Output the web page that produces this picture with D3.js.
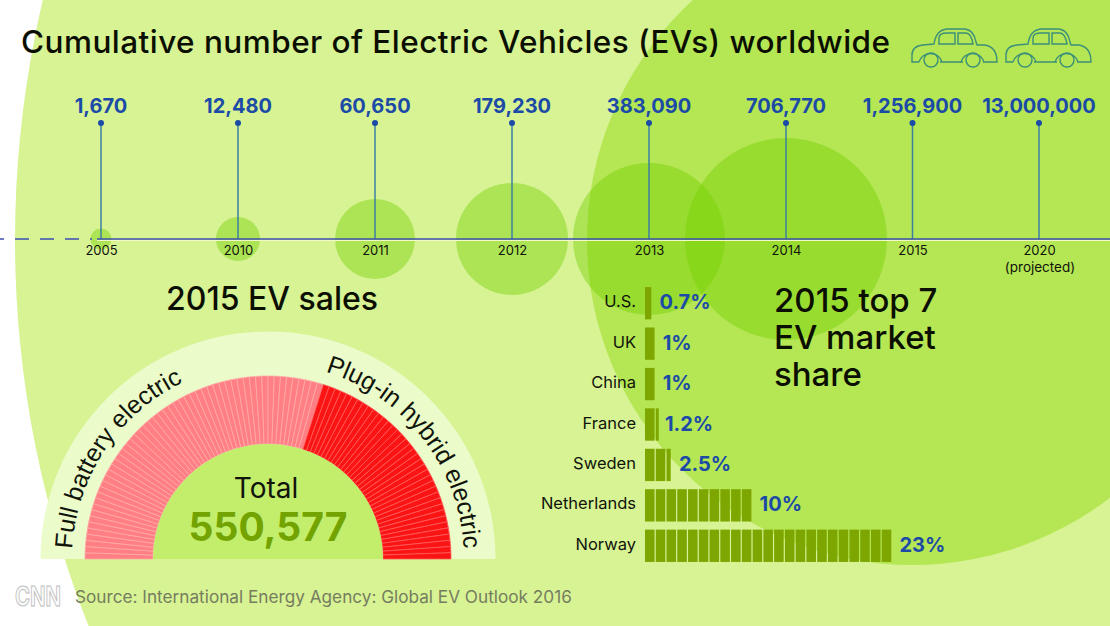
<!DOCTYPE html>
<html>
<head>
<meta charset="utf-8">
<script src="https://d3js.org/d3.v7.min.js"></script>
<style>
  html, body { margin: 0; padding: 0; background: #fff; }
  svg { display: block; }
  text { font-family: Inter, "Liberation Sans", Arial, sans-serif; }
  .heading { fill: #0b0f02; font-weight: 500; }
  .ringlabel { font-family: "Liberation Sans", Arial, sans-serif; }
</style>
</head>
<body>
<div id="chart"></div>
<script>
// timeline
const years = ["2005", "2010", "2011", "2012", "2013", "2014", "2015", "2020"];
const cumulative = [1670, 12480, 60650, 179230, 383090, 706770, 1256900, 13000000];
const bubbleYears = cumulative.slice(0, 6);

// gauge
const saleTypes = ["Full battery electric", "Plug-in hybrid electric"];
const saleValues = [327000, 223577];
const saleTotal = 550577;
const unitPerSlice = 6000;

// market share
const countries = ["U.S.", "UK", "China", "France", "Sweden", "Netherlands", "Norway"];
const shares = [0.7, 1, 1, 1.2, 2.5, 10, 23];
const shareLabels = ["0.7%", "1%", "1%", "1.2%", "2.5%", "10%", "23%"];

const width = 1110, height = 626;
const blue = "#1b4ba6";

var svg = d3.select("#chart").append("svg")
  .attr("width", width)
  .attr("height", height);

// background discs
svg.append("circle").attr("cx", 1065).attr("cy", 240).attr("r", 1050).attr("fill", "#d7f394");
svg.append("circle").attr("cx", 912).attr("cy", 240).attr("r", 325).attr("fill", "#b5e654");

svg.append("text")
  .attr("class", "heading")
  .attr("x", 21).attr("y", 53)
  .attr("font-size", 31.5)
  .attr("textLength", 869)
  .text("Cumulative number of Electric Vehicles (EVs) worldwide");

// little cars next to the title
function car(x, y) {
  var g = svg.append("g")
    .attr("transform", `translate(${x},${y})`)
    .attr("fill", "none")
    .attr("stroke", "#3c8f78")
    .attr("stroke-width", 1.4);
  g.append("path").attr("d", "M8,34 H1 V27 Q1,18 12,17 L23,16 Q25,2 36,1 H54 Q63,2 65,14 L66,17 H74 Q86,19 86,34 H72 M29,34 H52");
  g.append("path").attr("d", "M28,16 V10 Q28,5 36,5 H44 V16 Z M47,5 H55 Q60,5 62,16 H47 Z");
  g.append("circle").attr("cx", 20).attr("cy", 32).attr("r", 7);
  g.append("circle").attr("cx", 62).attr("cy", 32).attr("r", 7);
  g.append("path").attr("d", "M8,34 A12,12 0 0 1 31,34 M50,34 A12,12 0 0 1 73,34");
}
car(911, 28);
car(1005, 28);

// ---- timeline ----
var axisY = 239;
var x = d3.scaleLinear().domain([0, 5, 7]).range([101, 786, 1039]);
var r = d3.scaleLinear().domain(bubbleYears).range([10.5, 22, 40, 56, 76, 101]);

svg.append("g").selectAll("circle")
  .data(bubbleYears)
  .enter().append("circle")
  .attr("cx", (d, i) => x(i))
  .attr("cy", axisY)
  .attr("r", d => r(d))
  .attr("fill", "#72d000")
  .attr("fill-opacity", 0.42);

svg.append("g").selectAll("line")
  .data(cumulative)
  .enter().append("line")
  .attr("x1", (d, i) => x(i)).attr("x2", (d, i) => x(i))
  .attr("y1", 123).attr("y2", axisY)
  .attr("stroke", "#3c7fa0")
  .attr("stroke-width", 1.5);

svg.append("g").selectAll("circle")
  .data(cumulative)
  .enter().append("circle")
  .attr("cx", (d, i) => x(i))
  .attr("cy", 123)
  .attr("r", 3)
  .attr("fill", blue);

svg.append("g").selectAll("text")
  .data(cumulative)
  .enter().append("text")
  .attr("x", (d, i) => x(i))
  .attr("y", 113)
  .attr("text-anchor", "middle")
  .attr("font-size", 20)
  .attr("font-weight", "bold")
  .attr("fill", blue)
  .text(d => d3.format(",")(d));

// axis line: dashed up to the first year, solid after
svg.append("line").attr("x1", 0).attr("x2", 92).attr("y1", axisY).attr("y2", axisY)
  .attr("stroke", "#3d4fb0").attr("stroke-width", 1.5).attr("stroke-dasharray", "14 11").attr("stroke-dashoffset", 10);
svg.append("line").attr("x1", 97).attr("x2", width).attr("y1", axisY + 1.5).attr("y2", axisY + 1.5)
  .attr("stroke", "#f2f8c8").attr("stroke-width", 1);

var axis = svg.append("g")
  .attr("transform", `translate(0,${axisY})`)
  .call(d3.axisBottom(x).tickValues(d3.range(years.length)).tickFormat(i => years[i]).tickSize(0).tickPadding(7));
axis.select(".domain").remove();
axis.selectAll("text").attr("font-size", 13).attr("fill", "#10140a").style("font-family", "Inter");
svg.append("line").attr("x1", 97).attr("x2", width).attr("y1", axisY).attr("y2", axisY)
  .attr("stroke", "#3d4fb0").attr("stroke-width", 1.5);

svg.append("text")
  .attr("x", x(7) + 1).attr("y", 272)
  .attr("text-anchor", "middle")
  .attr("font-size", 13.5)
  .attr("fill", "#10140a")
  .text("(projected)");

// ---- gauge ----
var gx = 268, gy = 559;

svg.append("text")
  .attr("class", "heading")
  .attr("x", 272).attr("y", 310)
  .attr("text-anchor", "middle")
  .attr("font-size", 32)
  .text("2015 EV sales");

var bandArc = d3.arc().innerRadius(0).outerRadius(227.5).startAngle(-Math.PI / 2).endAngle(Math.PI / 2);
var g = svg.append("g").attr("transform", `translate(${gx},${gy})`);
g.append("path").attr("d", bandArc()).attr("fill", "#ebfbc9");

var slices = [];
saleValues.forEach(function(v, k) {
  d3.range(Math.round(v / unitPerSlice)).forEach(() => slices.push(k));
});

var pie = d3.pie().value(1).sort(null).startAngle(-Math.PI / 2).endAngle(Math.PI / 2);
var arc = d3.arc().innerRadius(115).outerRadius(183);

g.selectAll(".slice")
  .data(pie(slices))
  .enter().append("path")
  .attr("class", "slice")
  .attr("d", arc)
  .attr("fill", d => d.data == 0 ? "#ff7f84" : "#fb1414")
  .attr("stroke", d => d.data == 0 ? "#ffaaa8" : "#ff5c5c")
  .attr("stroke-width", 0.8);

g.append("path")
  .attr("d", d3.arc().innerRadius(0).outerRadius(115).startAngle(-Math.PI / 2).endAngle(Math.PI / 2)())
  .attr("fill", "#c2ee6c");

var ring = d3.path();
ring.arc(0, 0, 196, Math.PI, 2 * Math.PI);
g.append("path").attr("id", "ring").attr("d", ring.toString()).attr("fill", "none");

g.selectAll(".ringlabel")
  .data(saleTypes)
  .enter().append("text")
  .attr("class", "ringlabel")
  .attr("font-size", 25)
  .attr("fill", "#10140a")
  .append("textPath")
  .attr("href", "#ring")
  .attr("startOffset", (d, i) => i == 0 ? 10 : 366)
  .text(d => d);

g.append("text")
  .attr("x", -2).attr("y", -61)
  .attr("text-anchor", "middle")
  .attr("font-size", 28)
  .attr("fill", "#10140a")
  .text("Total");

g.append("text")
  .attr("x", 0).attr("y", -18)
  .attr("text-anchor", "middle")
  .attr("font-size", 39)
  .attr("font-weight", "bold")
  .attr("fill", "#72a300")
  .text(d3.format(",")(saleTotal));

// ---- market share bars ----
var xBar = d3.scaleLinear().domain([0, 23]).range([645, 892.5]);
var yBar = d3.scaleBand().domain(countries).range([283, 566]).paddingInner(0.2).paddingOuter(0.1);

var rows = svg.append("g").selectAll("g")
  .data(countries)
  .enter().append("g");

rows.append("text")
  .attr("x", 636)
  .attr("y", d => yBar(d) + yBar.bandwidth() / 2 + 4)
  .attr("text-anchor", "end")
  .attr("font-size", 16.5)
  .attr("fill", "#10140a")
  .text(d => d);

rows.selectAll("rect")
  .data((d, i) => d3.range(Math.ceil(shares[i])).map(k => ({ c: d, k: k, v: shares[i] })))
  .enter().append("rect")
  .attr("x", d => xBar(d.k))
  .attr("y", d => yBar(d.c))
  .attr("width", d => Math.max(3, xBar(Math.min(d.k + 1, d.v)) - xBar(d.k) - 1.2))
  .attr("height", yBar.bandwidth())
  .attr("fill", "#7ea600");

rows.append("text")
  .attr("x", (d, i) => xBar(shares[i]) + 7)
  .attr("y", d => yBar(d) + yBar.bandwidth() / 2 + 6)
  .attr("font-size", 20)
  .attr("font-weight", "bold")
  .attr("fill", blue)
  .text((d, i) => shareLabels[i]);

var share = svg.append("text")
  .attr("class", "heading")
  .attr("font-size", 33);
["2015 top 7", "EV market", "share"].forEach(function(t, i) {
  share.append("tspan").attr("x", 774).attr("y", 312 + i * 37).text(t);
});

// footer
svg.append("text")
  .attr("x", 15).attr("y", 606)
  .attr("font-size", 27)
  .attr("font-weight", "bold")
  .attr("textLength", 46)
  .attr("lengthAdjust", "spacingAndGlyphs")
  .attr("fill", "#fafafa")
  .attr("stroke", "#bdbdbd")
  .attr("stroke-width", 1)
  .text("CNN");

svg.append("text")
  .attr("x", 75).attr("y", 603)
  .attr("font-size", 17.2)
  .attr("fill", "#767d5f")
  .text("Source: International Energy Agency: Global EV Outlook 2016");
</script>
</body>
</html>
